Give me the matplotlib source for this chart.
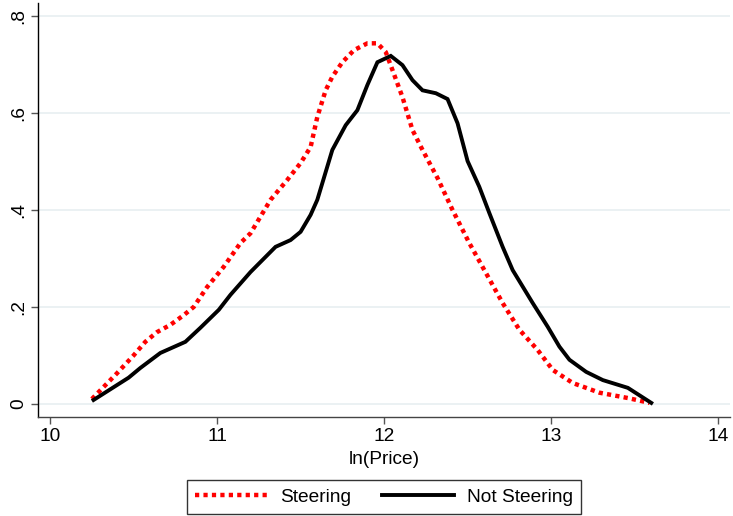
import numpy as np
import matplotlib
matplotlib.use('Agg')
import matplotlib.pyplot as plt

plt.rcParams['font.family'] = ['Liberation Sans', 'DejaVu Sans']

# Kernel density of ln(Price)
steer_x = [10.25, 10.40, 10.50, 10.57, 10.64, 10.72, 10.80, 10.86, 10.94, 11.04,
           11.14, 11.20, 11.32, 11.42, 11.50, 11.56, 11.60, 11.65, 11.69, 11.75,
           11.82, 11.90, 11.96, 12.01, 12.05, 12.11, 12.17, 12.23, 12.32, 12.41,
           12.51, 12.61, 12.71, 12.81, 12.92, 13.01, 13.13, 13.29, 13.46, 13.59]
steer_y = [0.010, 0.063, 0.100, 0.128, 0.148, 0.163, 0.183, 0.200, 0.241, 0.283,
           0.332, 0.352, 0.421, 0.462, 0.497, 0.530, 0.592, 0.647, 0.675, 0.705,
           0.730, 0.744, 0.744, 0.726, 0.689, 0.633, 0.565, 0.524, 0.466, 0.400,
           0.332, 0.270, 0.208, 0.153, 0.111, 0.070, 0.043, 0.023, 0.012, 0.002]

nosteer_x = [10.26, 10.47, 10.54, 10.66, 10.81, 10.90, 11.01, 11.08, 11.20, 11.35,
             11.44, 11.50, 11.56, 11.60, 11.69, 11.77, 11.84, 11.90, 11.96, 12.04,
             12.11, 12.17, 12.23, 12.31, 12.38, 12.44, 12.50, 12.57, 12.63, 12.71,
             12.77, 12.89, 12.98, 13.05, 13.11, 13.21, 13.31, 13.46, 13.60]
nosteer_y = [0.008, 0.054, 0.074, 0.105, 0.128, 0.157, 0.194, 0.225, 0.272, 0.324,
             0.338, 0.355, 0.390, 0.421, 0.524, 0.575, 0.606, 0.658, 0.705, 0.718,
             0.699, 0.668, 0.647, 0.641, 0.629, 0.579, 0.501, 0.448, 0.394, 0.324,
             0.276, 0.208, 0.159, 0.118, 0.091, 0.066, 0.049, 0.033, 0.002]

xticks = [10, 11, 12, 13, 14]
yticks = [0, 0.2, 0.4, 0.6, 0.8]
yticklabels = ['0', '.2', '.4', '.6', '.8']

fs = 13.8

fig = plt.figure(figsize=(7.33, 5.16), dpi=100)
ax = fig.add_axes([0.052, 0.192, 0.944, 0.802])

ax.plot(steer_x, steer_y, color='red', lw=3.2, linestyle=(0, (0.95, 0.95)),
        label='Steering', zorder=3)
ax.plot(nosteer_x, nosteer_y, color='black', lw=2.8, solid_joinstyle='miter',
        label='Not Steering', zorder=3)

ax.set_xlim(9.928, 14.072)
ax.set_ylim(-0.027, 0.827)
ax.set_xticks(xticks)
ax.set_yticks(yticks)
ax.set_yticklabels(yticklabels, rotation=90, va='center')
ax.tick_params(labelsize=fs, length=5, width=1, color='#555555', pad=3)
ax.grid(axis='y', color='#e8eff1', lw=1.2)
ax.set_axisbelow(True)

for s in ['top', 'right']:
    ax.spines[s].set_visible(False)
ax.spines['left'].set_linewidth(1)
ax.spines['bottom'].set_linewidth(1)
ax.spines['bottom'].set_color('#444444')

ax.set_xlabel('ln(Price)', fontsize=fs, labelpad=4)

leg = fig.legend(loc='center', bbox_to_anchor=(384 / 733, 1 - 497 / 516), ncol=2,
                 frameon=True, fancybox=False, edgecolor='black', fontsize=fs,
                 handlelength=3.75, handletextpad=0.68, columnspacing=1.6,
                 borderpad=0.45, borderaxespad=0)
leg.get_frame().set_linewidth(1)

fig.savefig('out.png', dpi=100)
